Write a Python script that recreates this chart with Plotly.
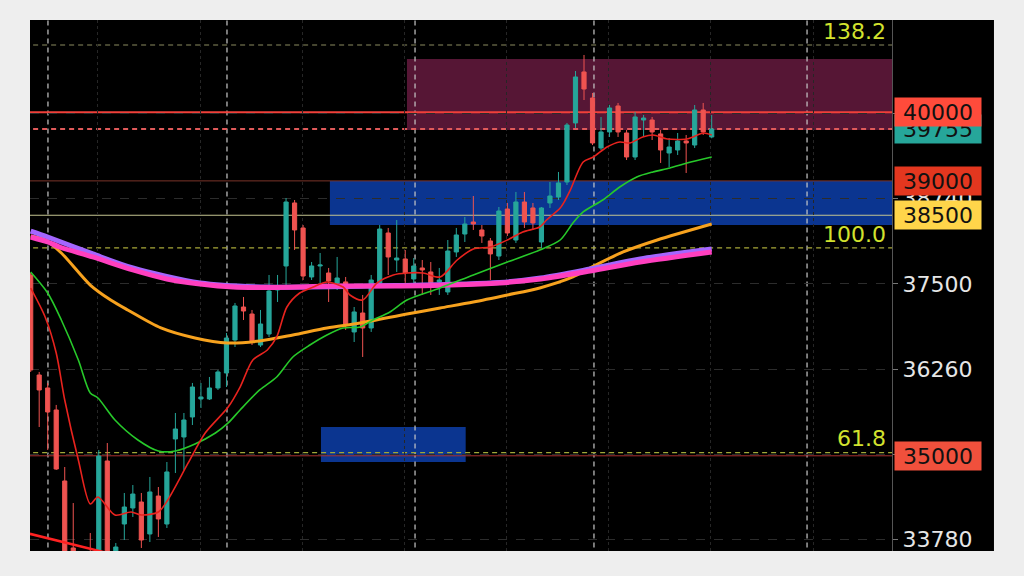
import plotly.graph_objects as go

# ---- OHLC data (one bar per session index) ----
bar_index = list(range(81))
opens = [37631, 36176, 35987, 35667, 34634, 33659, 33500, 33450, 33480, 34925,
         33560, 34008, 34241, 34328, 33863, 34415, 34008, 35245, 35274, 35565,
         35827, 35827, 35987, 36205, 36685, 37165, 37063, 36612, 36772, 37413,
         37762, 38679, 38315, 37602, 37762, 37660, 37515, 37530, 36802, 37078,
         36860, 37515, 38242, 37849, 37864, 37573, 37733, 37675, 37529, 37384,
         37966, 38227, 38402, 38286, 38126, 37907, 38591, 38140, 38693, 38606,
         38111, 38679, 38766, 38984, 39843, 40585, 40206, 39479, 39712, 40090,
         39697, 39348, 39886, 39886, 39683, 39406, 39450, 39581, 39522, 40032,
         39639]
highs = [37660, 36220, 36060, 35740, 34837, 34313, 33560, 33877, 35085, 35186,
         33731, 34459, 34575, 34459, 34692, 34546, 34910, 35623, 35623, 36060,
         36060, 36147, 36249, 36787, 37224, 37311, 37122, 37122, 37631, 37631,
         38751, 38722, 38358, 37820, 37951, 37733, 37893, 37602, 37165, 37340,
         37631, 38358, 38315, 38431, 37995, 37878, 37849, 37820, 37733, 38140,
         38315, 38475, 38780, 38358, 38169, 38620, 38679, 38839, 38839, 38679,
         38620, 38984, 39130, 39843, 40599, 40832, 40279, 39930, 40104, 40134,
         39741, 40003, 39959, 39930, 39741, 39624, 39697, 39668, 40104, 40134,
         39959]
lows = [36220, 35419, 35085, 34794, 33450, 33400, 33250, 33250, 33400, 33400,
        33480, 33775, 34110, 33659, 33746, 33819, 33950, 34750, 34794, 35448,
        35696, 35812, 35958, 36001, 36583, 36976, 36612, 36583, 36729, 37238,
        37485, 37995, 37558, 37558, 37515, 37238, 37413, 36831, 36656, 36438,
        36802, 37485, 37631, 37675, 37515, 37456, 37340, 37340, 37340, 37340,
        37893, 38111, 38286, 38097, 37558, 37849, 38198, 38097, 38315, 38286,
        38024, 38606, 38722, 38940, 39770, 40177, 39522, 39450, 39639, 39639,
        39304, 39304, 39639, 39595, 39261, 39202, 39377, 39115, 39479, 39668,
        39620]
closes = [36249, 35958, 35638, 34808, 33560, 33480, 33320, 33350, 34997, 33520,
          33673, 34255, 34444, 33775, 34474, 34081, 34765, 35390, 35521, 36001,
          35856, 35987, 36220, 36714, 37180, 37107, 36671, 36918, 37398, 37456,
          38693, 38286, 37616, 37762, 37776, 37544, 37587, 36900, 37093, 36860,
          37558, 38300, 37893, 37878, 37660, 37762, 37704, 37515, 37558, 37980,
          38213, 38373, 38373, 38198, 37937, 38562, 38242, 38693, 38402, 38388,
          38606, 38780, 38970, 39813, 40512, 40337, 39552, 39712, 40061, 39712,
          39348, 39930, 39915, 39712, 39450, 39493, 39581, 39552, 40032, 39712,
          39755]

# ---- moving-average curves (sampled at bar positions) ----
ma_fast_x = [0, 1.7, 3.0, 4.0, 5.6, 7.0, 7.9, 9.9, 11.8, 13.0, 15.0, 16.1, 18.5,
             20.5, 23.2, 24.6, 26.1, 27.8, 28.9, 30.1, 31.6, 33.2, 34.8, 36.7,
             37.5, 39.0, 40.7, 42.6, 44.2, 46.1, 48.1, 50.1, 52.0, 54.0, 56.0,
             57.8, 59.8, 60.6, 62.2, 62.8, 63.4, 64.9, 66.1, 67.7, 69.2, 70.4,
             71.9, 73.1, 74.8, 77.1, 77.8, 79.0, 80.0]
ma_fast_y = [37440, 37020, 36496, 35812, 34939, 34299, 34401, 34139, 34183, 34139,
             34183, 34357, 34896, 35332, 35710, 36001, 36394, 36540, 36729, 37165,
             37369, 37456, 37529, 37456, 37340, 37267, 37515, 37631, 37660, 37660,
             37602, 37849, 38009, 38038, 38140, 38257, 38329, 38431, 38606, 38722,
             38868, 39275, 39348, 39493, 39566, 39552, 39639, 39668, 39610, 39610,
             39639, 39697, 39668]

ma_mid_x = [0, 2.0, 3.6, 5.6, 7.0, 7.9, 9.9, 12.6, 15.0, 17.0, 19.3, 21.7, 23.2,
            24.6, 26.9, 28.9, 30.8, 32.8, 34.8, 36.7, 38.7, 40.2, 42.2, 44.2,
            48.1, 52.0, 56.0, 59.8, 62.2, 63.7, 64.9, 67.2, 69.2, 71.2, 73.1,
            75.1, 77.1, 80.0]
ma_mid_y = [37675, 37369, 36976, 36394, 35914, 35841, 35521, 35230, 35070, 35070,
            35172, 35332, 35478, 35667, 35958, 36147, 36438, 36612, 36758, 36860,
            36874, 36976, 37093, 37267, 37442, 37631, 37820, 37995, 38140, 38388,
            38548, 38722, 38911, 39057, 39130, 39188, 39261, 39348]

ma_slow_x = [0, 1.7, 3.6, 7.0, 9.4, 11.4, 15.3, 19.3, 23.1, 26.9, 30.8, 34.8,
             38.7, 44.2, 48.1, 52.0, 56.0, 59.8, 63.7, 65.7, 69.6, 73.6, 80.0]
ma_slow_y = [38198, 38140, 37951, 37485, 37267, 37122, 36860, 36714, 36642, 36671,
             36758, 36860, 36933, 37063, 37151, 37238, 37340, 37442, 37602, 37733,
             37966, 38140, 38373]

ma_long_x = [0, 2.0, 3.4, 7.3, 12.0, 16.0, 19.9, 23.8, 27.8, 31.6, 35.5, 43.4,
             49.3, 55.1, 59.9, 65.7, 71.6, 80.0]
ma_long_y = [38184, 38111, 38038, 37893, 37704, 37573, 37500, 37456, 37449, 37456,
             37471, 37471, 37485, 37515, 37573, 37689, 37820, 37966]

ma_longer_x = [0, 2.0, 7.3, 12.0, 19.9, 27.8, 43.4, 55.1, 59.9, 65.7, 71.6, 80.0]
ma_longer_y = [38271, 38184, 37937, 37733, 37515, 37456, 37478, 37522, 37587,
               37718, 37864, 38009]

# falling trendline in the lower-left corner
trend_x = [-0.1, 10.5]
trend_y = [33865, 33540]

# ---- price levels and zones ----
level_resist = 40000
level_last = 39755
level_39000 = 39000
level_38500 = 38500
level_35000 = 35000

fib_levels = [40977, 38024, 35045]
fib_names = ["138.2", "100.0", "61.8"]
fib_label_y = [41167, 38213, 35259]

supply_zone = (44.2, 40774, 39741)
demand_zone = (35.15, 38999, 38358)
lower_zone = (34.1, 51.1, 35419, 34910)

session_breaks = [2.03, 23.06, 45.15, 66.17, 91.2]

y_ticks = [33780, 35020, 36260, 37500, 38740, 39980]

tags = [("39755", level_last, "#26a69a"),
        ("40000", level_resist, "#ff4b3b"),
        ("39000", level_39000, "#e3371f"),
        ("38500", level_38500, "#ffd54a"),
        ("35000", level_35000, "#f0503c")]

FONT = "DejaVu Sans"
TEAL = "#26a69a"
RED = "#ef5350"
X_LO, X_HI = -5, 200          # extents used for full-width level lines
Y_LO, Y_HI = 30000, 45000     # extents used for full-height separators

fig = go.Figure()

fig.add_trace(go.Candlestick(
    x=bar_index, open=opens, high=highs, low=lows, close=closes,
    increasing=dict(line=dict(color=TEAL, width=1), fillcolor=TEAL),
    decreasing=dict(line=dict(color=RED, width=1), fillcolor=RED),
    whiskerwidth=0, showlegend=False, hoverinfo="skip"))

def ma_line(x, y, color, width):
    fig.add_trace(go.Scatter(x=x, y=y, mode="lines",
                             line=dict(color=color, width=width, shape="spline", smoothing=0.8),
                             showlegend=False, hoverinfo="skip"))

ma_line(ma_slow_x, ma_slow_y, "#f7a21e", 3)
ma_line(ma_longer_x, ma_longer_y, "#a466ff", 5)
ma_line(ma_long_x, ma_long_y, "#ff3fbf", 5)
ma_line(ma_mid_x, ma_mid_y, "#27c92a", 1.6)
ma_line(ma_fast_x, ma_fast_y, "#e8231e", 1.6)

fig.add_trace(go.Scatter(x=trend_x, y=trend_y, mode="lines",
                         line=dict(color="#ff2222", width=2.5),
                         showlegend=False, hoverinfo="skip"))

shapes = []
# right-hand price panel background
shapes.append(dict(type="rect", xref="paper", yref="paper", x0=1, x1=1.1183, y0=0, y1=1,
                   fillcolor="#000000", line=dict(width=0), layer="below"))
# zones
shapes.append(dict(type="rect", xref="x", yref="y", x0=supply_zone[0], x1=X_HI,
                   y0=supply_zone[2], y1=supply_zone[1], fillcolor="#561635",
                   line=dict(width=0), layer="below"))
shapes.append(dict(type="rect", xref="x", yref="y", x0=demand_zone[0], x1=X_HI,
                   y0=demand_zone[2], y1=demand_zone[1], fillcolor="#0b3590",
                   line=dict(width=0), layer="below"))
shapes.append(dict(type="rect", xref="x", yref="y", x0=lower_zone[0], x1=lower_zone[1],
                   y0=lower_zone[3], y1=lower_zone[2], fillcolor="#0b3590",
                   line=dict(width=0), layer="below"))
# session separators
for sx in session_breaks:
    shapes.append(dict(type="line", xref="x", yref="y", x0=sx, x1=sx, y0=Y_LO, y1=Y_HI,
                       line=dict(color="#c8c8c8", width=1.2, dash="5px,4px"), layer="below"))
# fibonacci levels
fib_colors = ["#8c8c60", "#a8a838", "#a0a838"]
for lv, col in zip(fib_levels, fib_colors):
    shapes.append(dict(type="line", xref="x", yref="y", x0=X_LO, x1=X_HI, y0=lv, y1=lv,
                       line=dict(color=col, width=1.2, dash="5px,4px"), layer="below"))

def level(y, color, width, dash="solid"):
    shapes.append(dict(type="line", xref="x", yref="y", x0=X_LO, x1=X_HI, y0=y, y1=y,
                       line=dict(color=color, width=width, dash=dash), layer="below"))

level(level_39000, "#7a3428", 1)
level(level_38500, "#c4c490", 1)
level(level_35000, "#a83030", 1)
level(level_last, "#e05a5a", 2, "5px,4px")
level(level_resist, "#f0403a", 2)

annotations = []
for name, ly in zip(fib_names, fib_label_y):
    annotations.append(dict(xref="paper", yref="y", x=0.9954, y=ly, xanchor="right",
                            yanchor="middle", text=name, showarrow=False,
                            font=dict(family=FONT, size=22, color="#d2e22e")))
for txt, lv, col in tags:
    annotations.append(dict(xref="paper", yref="y", x=1.0023, y=lv, xanchor="left",
                            yanchor="middle", text=txt, showarrow=False,
                            width=80, height=22, borderpad=3, bgcolor=col,
                            font=dict(family=FONT, size=22, color="#111111")))

fig.update_layout(
    width=1024, height=576,
    margin=dict(l=30, r=132, t=20, b=25),
    paper_bgcolor="#eeeeee", plot_bgcolor="#000000",
    shapes=shapes, annotations=annotations,
    xaxis=dict(range=[-0.08, 101.18], showticklabels=False, zeroline=False,
               rangeslider=dict(visible=False), showgrid=True, tick0=7.9, dtick=12,
               gridcolor="#262626", griddash="dot", ticks=""),
    yaxis=dict(range=[33615, 41341], side="right", tickvals=y_ticks,
               ticktext=[str(v) for v in y_ticks], showgrid=True, gridcolor="#2c2c2c",
               griddash="dash", zeroline=False, showline=True, linecolor="#555555",
               ticks="outside", ticklen=5, tickcolor="#777777",
               tickfont=dict(family=FONT, size=22, color="#e6e6e6")),
)

fig.write_html("out.html")
